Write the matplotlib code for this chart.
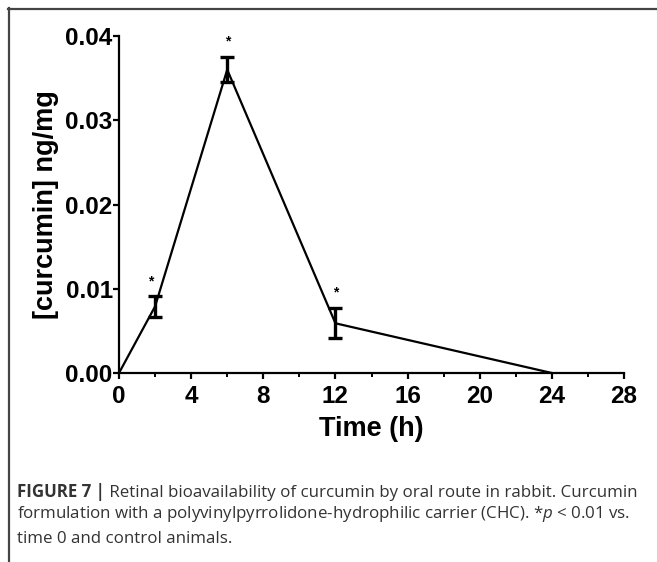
import matplotlib
matplotlib.use("Agg")
import matplotlib.pyplot as plt
from matplotlib.lines import Line2D
from matplotlib.ticker import MultipleLocator

# data
time_h = [0, 2, 6, 12, 24]
conc = [0.0, 0.0079, 0.0360, 0.0059, 0.0]
err = [0.0, 0.0012, 0.0015, 0.0018, 0.0]
star_times = [2, 6, 12]

x_ticks = [0, 4, 8, 12, 16, 20, 24, 28]
y_ticks = [0.00, 0.01, 0.02, 0.03, 0.04]

plt.rcParams['font.family'] = ['Liberation Sans', 'DejaVu Sans']
plt.rcParams['mathtext.fontset'] = 'custom'
plt.rcParams['mathtext.it'] = 'Open Sans:italic'
plt.rcParams['mathtext.rm'] = 'Open Sans'

fig = plt.figure(figsize=(6.57, 5.62), dpi=100)
ax = fig.add_axes([119 / 657, 1 - 373 / 562, (624 - 119) / 657, (373 - 36) / 562])

ax.plot(time_h, conc, color='black', lw=1.6, clip_on=False, zorder=3)
ax.errorbar(time_h[1:4], conc[1:4], yerr=err[1:4], fmt='none', ecolor='black',
            elinewidth=2.4, capsize=5, capthick=2.4, zorder=4)

# significance stars above the error bars
for t in star_times:
    i = time_h.index(t)
    ax.annotate('*', xy=(t, conc[i] + err[i]), xytext=(-3 if t == 2 else 0, 11),
                textcoords='offset points', ha='center', va='center',
                fontsize=10, fontweight='bold')

ax.set_xlim(0, 28)
ax.set_ylim(0, 0.04)
ax.set_xticks(x_ticks)
ax.set_yticks(y_ticks)
ax.set_yticklabels([f"{v:.2f}" for v in y_ticks])
ax.xaxis.set_minor_locator(MultipleLocator(2))

for side in ['top', 'right']:
    ax.spines[side].set_visible(False)
for side in ['left', 'bottom']:
    ax.spines[side].set_linewidth(1.6)

ax.tick_params(axis='both', which='major', direction='out', length=4, width=1.6,
               labelsize=17.5)
ax.tick_params(axis='y', which='major', pad=0.5)
ax.tick_params(axis='x', which='major', pad=4.5)
ax.tick_params(axis='x', which='minor', direction='out', length=3, width=1.4)
for lbl in ax.get_xticklabels() + ax.get_yticklabels():
    lbl.set_fontweight('bold')

ax.set_xlabel('Time (h)', fontsize=19.5, fontweight='bold', labelpad=6)
ax.set_ylabel('[curcumin] ng/mg', fontsize=19.5, fontweight='bold', labelpad=5)

# frame around the figure panel (top and left only)
fig.add_artist(Line2D([8 / 657, 1], [1 - 8.5 / 562, 1 - 8.5 / 562], color='#444444', lw=1.6))
fig.add_artist(Line2D([8.5 / 657, 8.5 / 657], [0, 1 - 8 / 562], color='#444444', lw=1.6))

# caption
cap_color = '#333333'
cap_font = 'Open Sans'
cap_size = 12.2
x0 = 17 / 657
t1 = fig.text(x0, 1 - 501 / 562, 'FIGURE 7 |', fontsize=cap_size, fontweight='bold',
              family=cap_font, color=cap_color, va='bottom')
ax.annotate(' Retinal bioavailability of curcumin by oral route in rabbit. Curcumin',
            xy=(1, 0), xycoords=t1, va='bottom', ha='left', fontsize=cap_size,
            family=cap_font, color=cap_color, annotation_clip=False)
fig.text(x0, 1 - 524 / 562,
         r'formulation with a polyvinylpyrrolidone-hydrophilic carrier (CHC). *$p$ < 0.01 vs.',
         fontsize=cap_size, family=cap_font, color=cap_color, va='bottom')
fig.text(x0, 1 - 547 / 562, 'time 0 and control animals.',
         fontsize=cap_size, family=cap_font, color=cap_color, va='bottom')

fig.savefig('out.png', dpi=100)
